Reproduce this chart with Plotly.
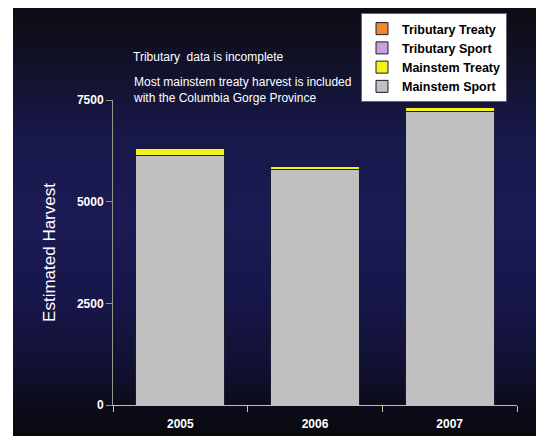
import base64
import plotly.graph_objects as go

years = ["2005", "2006", "2007"]
mainstem_sport = [6130, 5800, 7210]
mainstem_treaty = [175, 65, 115]
tributary_sport = [0, 0, 0]
tributary_treaty = [0, 0, 0]
y_ticks = [0, 2500, 5000, 7500]

W, H = 536, 436
ML, MR, MT, MB = 113, 19, 100, 31
PW, PH = W - ML - MR, H - MT - MB

FONT = "Liberation Sans, Arial, sans-serif"

BW, BH = W - 13, H - 8
svg = f"""<svg xmlns='http://www.w3.org/2000/svg' width='{BW}' height='{BH}' viewBox='0 0 {BW} {BH}' preserveAspectRatio='none'>
<defs><linearGradient id='g' x1='0' y1='0' x2='0' y2='1'>
<stop offset='0' stop-color='#0d0c14'/>
<stop offset='0.12' stop-color='#111128'/>
<stop offset='0.3' stop-color='#18184a'/>
<stop offset='0.5' stop-color='#1b1a54'/>
<stop offset='0.68' stop-color='#17164a'/>
<stop offset='0.84' stop-color='#111132'/>
<stop offset='0.93' stop-color='#0c0c1a'/>
<stop offset='1' stop-color='#09090d'/>
</linearGradient></defs>
<rect x='0' y='0' width='{BW}' height='{BH}' fill='url(#g)'/>
</svg>"""
src = "data:image/svg+xml;base64," + base64.b64encode(svg.encode()).decode()

fig = go.Figure()
line = dict(color="#1a1a30", width=1)
fig.add_trace(go.Bar(x=years, y=mainstem_sport, name="Mainstem Sport",
                     marker=dict(color="#c0c0c0", line=line)))
fig.add_trace(go.Bar(x=years, y=mainstem_treaty, name="Mainstem Treaty",
                     marker=dict(color="#f2f21e", line=line)))
fig.add_trace(go.Bar(x=years, y=tributary_sport, name="Tributary Sport",
                     marker=dict(color="#c8a0dc", line=line)))
fig.add_trace(go.Bar(x=years, y=tributary_treaty, name="Tributary Treaty",
                     marker=dict(color="#f08a28", line=line)))

fig.update_layout(
    width=W, height=H,
    margin=dict(l=ML, r=MR, t=MT, b=MB, pad=0, autoexpand=False),
    paper_bgcolor="white",
    plot_bgcolor="rgba(0,0,0,0)",
    barmode="stack",
    bargap=0.34,
    showlegend=True,
    font=dict(family=FONT, color="white", size=12),
    images=[dict(source=src, xref="paper", yref="paper",
                 x=(13 - ML) / PW, y=1 + (MT - 8) / PH,
                 sizex=BW / PW, sizey=BH / PH,
                 xanchor="left", yanchor="top", sizing="stretch",
                 layer="below")],
    legend=dict(x=(507 - ML) / PW, y=1 + (MT - 13) / PH,
                xanchor="right", yanchor="top",
                bgcolor="white", bordercolor="#666666", borderwidth=1,
                traceorder="reversed",
                font=dict(family=FONT, size=12.5, color="black", weight="bold"),
                itemwidth=30),
    xaxis=dict(type="category", showgrid=False, showline=True,
               linecolor="#c8c29a", linewidth=1, ticks="outside",
               tickson="boundaries", ticklen=6, tickcolor="#c8c29a",
               ticklabelstandoff=8, automargin=False,
               tickfont=dict(family=FONT, size=12, color="white", weight="bold")),
    yaxis=dict(range=[0, 7500], tickvals=y_ticks, showgrid=False,
               zeroline=False, showline=True, linecolor="#9a9686",
               linewidth=1, ticks="outside", ticklen=6, tickcolor="#9a9686",
               automargin=False,
               tickfont=dict(family=FONT, size=12, color="white", weight="bold"),
               title=dict(text="Estimated Harvest", standoff=16,
                          font=dict(family=FONT, size=17, color="white"))),
    annotations=[
        dict(text="Tributary  data is incomplete", xref="paper", yref="paper",
             x=(131 - ML) / PW, y=1 + (MT - 57) / PH, xanchor="left",
             yanchor="middle", showarrow=False,
             font=dict(family=FONT, size=12, color="white")),
        dict(text="Most mainstem treaty harvest is included<br>with the Columbia Gorge Province",
             xref="paper", yref="paper", align="left",
             x=(131 - ML) / PW, y=1 + (MT - 89.5) / PH, xanchor="left",
             yanchor="middle", showarrow=False,
             font=dict(family=FONT, size=12, color="white")),
    ],
)

fig.write_html("out.html")
